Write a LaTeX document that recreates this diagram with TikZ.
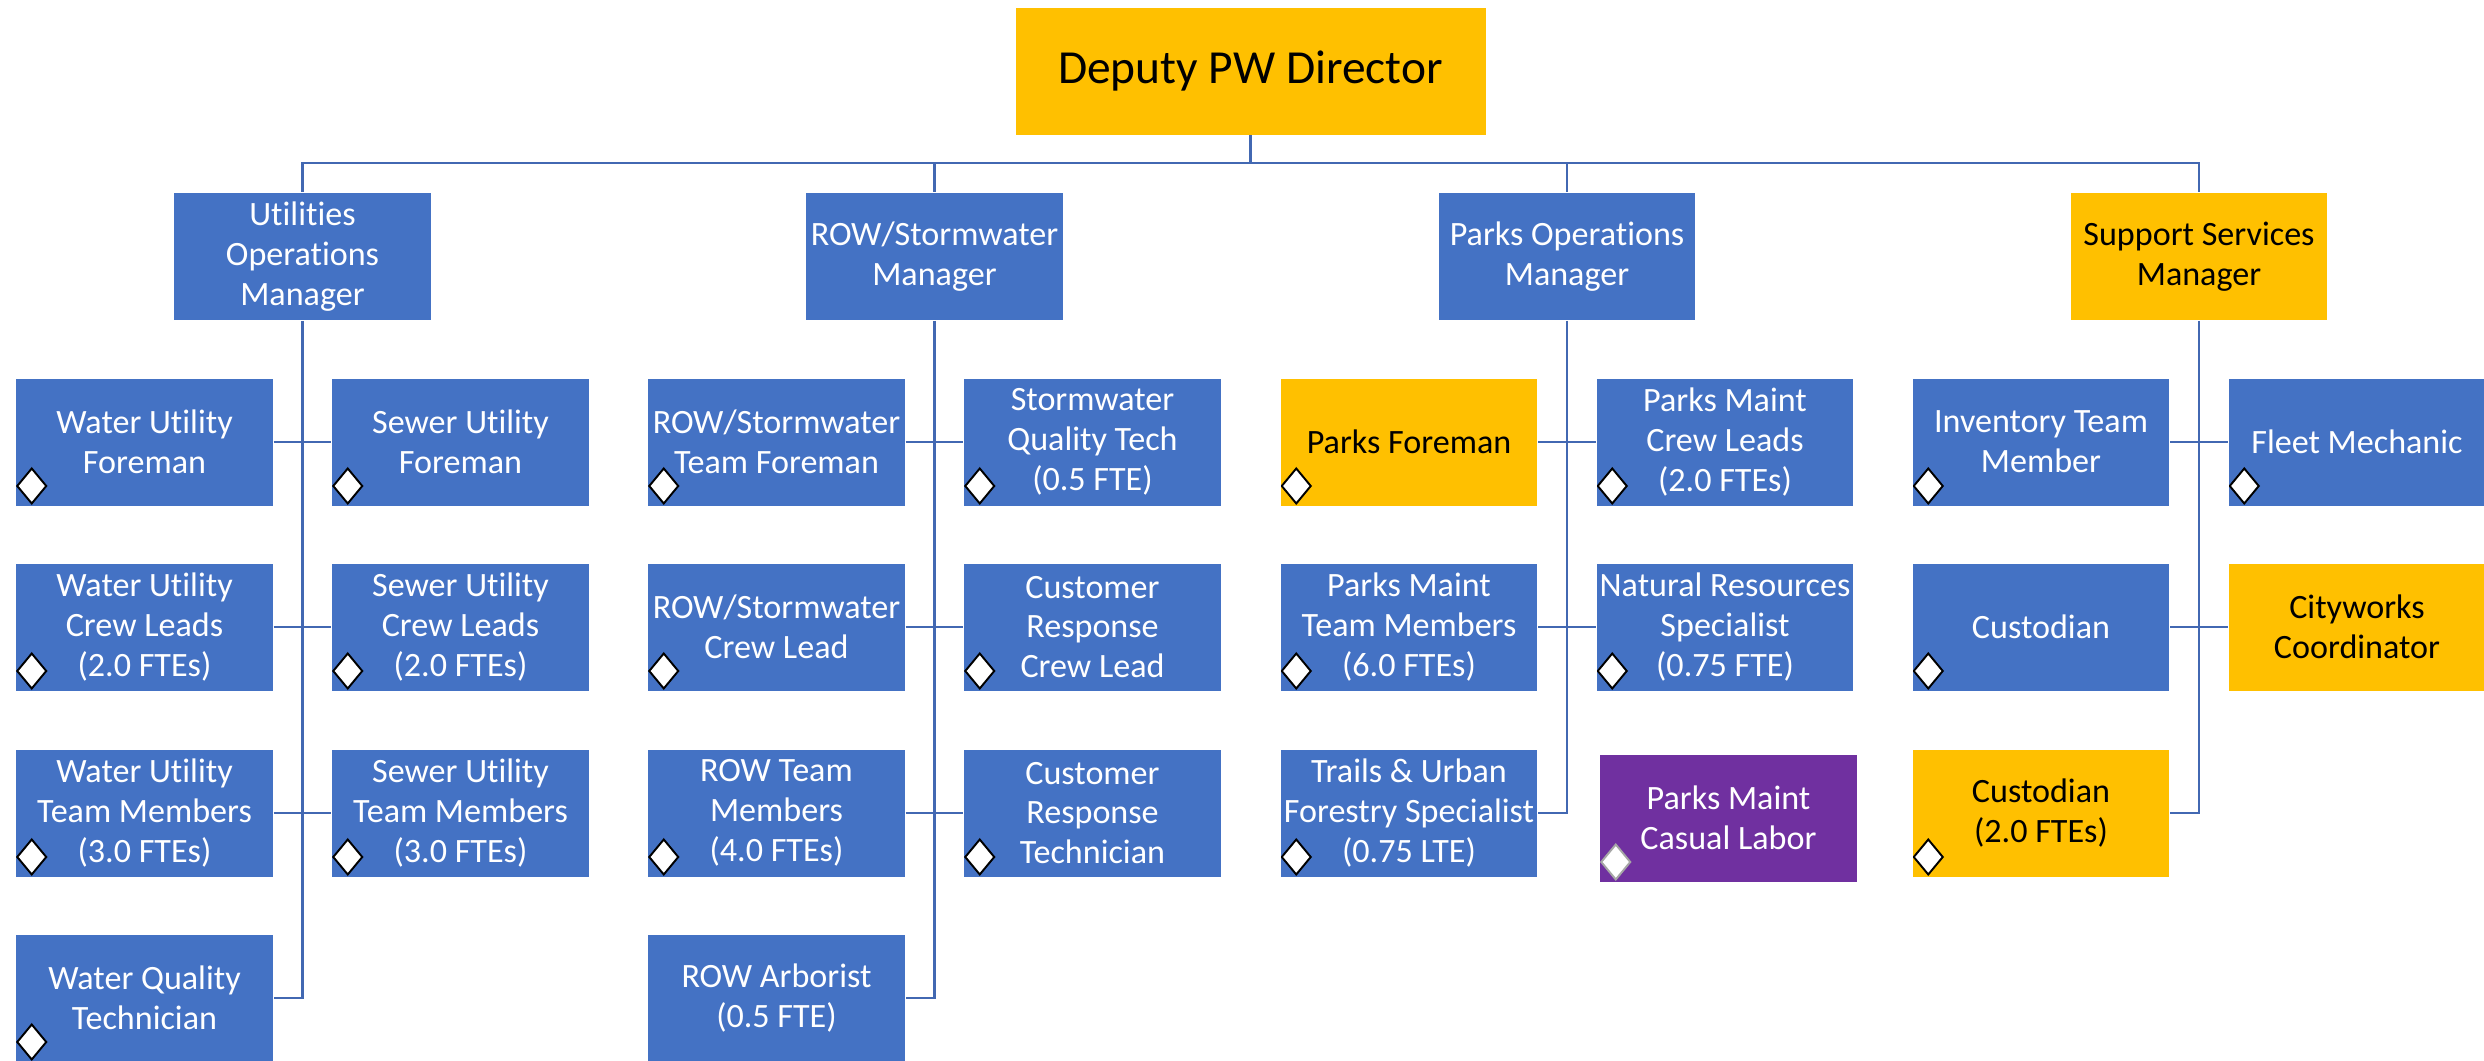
\documentclass[tikz,border=0pt]{standalone}
\usepackage{fontspec}
\setmainfont{Carlito}[Ligatures = NoCommon]
\usetikzlibrary{positioning}
\definecolor{opsblue}{RGB}{68,114,196}
\definecolor{opsgold}{RGB}{255,192,0}
\definecolor{opspurple}{RGB}{112,48,160}
\definecolor{treeline}{RGB}{66,104,178}

\begin{document}
\begin{tikzpicture}[scale = 1,
	every node/.style = {rectangle, draw = white, line width = 0.5pt, align = center, minimum width = 5.15cm, minimum height = 2.56cm, inner sep = 0pt, font = \fontsize{19.4}{22.6}\selectfont},
	bluebox/.style = {fill = opsblue, text = white},
	goldbox/.style = {fill = opsgold, text = black},
	purplebox/.style = {fill = opspurple, text = white},
	tagged/.style = {path picture = {\draw[fill = white, draw = #1, line width = 1.1pt] ([xshift = 0.32cm, yshift = 0.4cm]path picture bounding box.south west) +(-0.29,0) -- +(0,0.35) -- +(0.29,0) -- +(0,-0.35) -- cycle;}},
	tagged/.default = black,
	tree/.style = {draw = treeline, line width = 1.2pt}]

	\useasboundingbox (0,0) rectangle (49.68,21.22);

	\node (dir)   at (25.01, 19.80) [goldbox, minimum width = 9.42cm, font = \fontsize{27}{32}\selectfont] {Deputy PW Director};

	\node (util)  at ( 6.05, 16.09) [bluebox] {Utilities\\Operations\\Manager};
	\node (row)   at (18.69, 16.09) [bluebox] {ROW/Stormwater\\Manager};
	\node (parks) at (31.34, 16.09) [bluebox] {Parks Operations\\Manager};
	\node (supp)  at (43.98, 16.09) [goldbox] {Support Services\\Manager};

	% utilities
	\node (wuf)  at ( 2.89, 12.38) [bluebox, tagged] {Water Utility\\Foreman};
	\node (suf)  at ( 9.21, 12.38) [bluebox, tagged] {Sewer Utility\\Foreman};
	\node (wucl) at ( 2.89,  8.68) [bluebox, tagged] {Water Utility\\Crew Leads\\(2.0 FTEs)};
	\node (sucl) at ( 9.21,  8.68) [bluebox, tagged] {Sewer Utility\\Crew Leads\\(2.0 FTEs)};
	\node (wutm) at ( 2.89,  4.96) [bluebox, tagged] {Water Utility\\Team Members\\(3.0 FTEs)};
	\node (sutm) at ( 9.21,  4.96) [bluebox, tagged] {Sewer Utility\\Team Members\\(3.0 FTEs)};
	\node (wqt)  at ( 2.89,  1.26) [bluebox, tagged] {Water Quality\\Technician};

	% row / stormwater
	\node (rtf)  at (15.53, 12.38) [bluebox, tagged] {ROW/Stormwater\\Team Foreman};
	\node (sqt)  at (21.85, 12.38) [bluebox, tagged] {Stormwater\\Quality Tech\\(0.5 FTE)};
	\node (rcl)  at (15.53,  8.68) [bluebox, tagged] {ROW/Stormwater\\Crew Lead};
	\node (crcl) at (21.85,  8.68) [bluebox, tagged] {Customer\\Response\\Crew Lead};
	\node (rtm)  at (15.53,  4.96) [bluebox, tagged] {ROW Team\\Members\\(4.0 FTEs)};
	\node (crt)  at (21.85,  4.96) [bluebox, tagged] {Customer\\Response\\Technician};
	\node (arb)  at (15.53,  1.26) [bluebox] {ROW Arborist\\(0.5 FTE)};

	% parks
	\node (pf)    at (28.18, 12.38) [goldbox, tagged] {Parks Foreman};
	\node (pmcl)  at (34.50, 12.38) [bluebox, tagged] {Parks Maint\\Crew Leads\\(2.0 FTEs)};
	\node (pmtm)  at (28.18,  8.68) [bluebox, tagged] {Parks Maint\\Team Members\\(6.0 FTEs)};
	\node (nrs)   at (34.50,  8.68) [bluebox, tagged] {Natural Resources\\Specialist\\(0.75 FTE)};
	\node (tus)   at (28.18,  4.96) [bluebox, tagged] {Trails \& Urban\\Forestry Specialist\\(0.75 LTE)};
	\node (pmcas) at (34.57,  4.86) [purplebox, tagged = gray!70] {Parks Maint\\Casual Labor};

	% support services
	\node (itm)  at (40.82, 12.38) [bluebox, tagged] {Inventory Team\\Member};
	\node (fm)   at (47.14, 12.38) [bluebox, tagged] {Fleet Mechanic};
	\node (cus)  at (40.82,  8.68) [bluebox, tagged] {Custodian};
	\node (cwc)  at (47.14,  8.68) [goldbox] {Cityworks\\Coordinator};
	\node (cus2) at (40.82,  4.96) [goldbox, tagged] {Custodian\\(2.0 FTEs)};

	\foreach \m in {util, row, parks, supp}
		\draw [tree] (dir.south) -- ++(0,-0.56) -| (\m.north);
	\foreach \m/\last in {util/wqt, row/arb, parks/tus, supp/cus2}
		\draw [tree] (\m.south) |- (\last.east);
	\foreach \from/\to in {wuf/suf, wucl/sucl, wutm/sutm, rtf/sqt, rcl/crcl, rtm/crt, pf/pmcl, pmtm/nrs, itm/fm, cus/cwc}
		\draw [tree] (\from.east) -- (\to.west);

\end{tikzpicture}
\end{document}
